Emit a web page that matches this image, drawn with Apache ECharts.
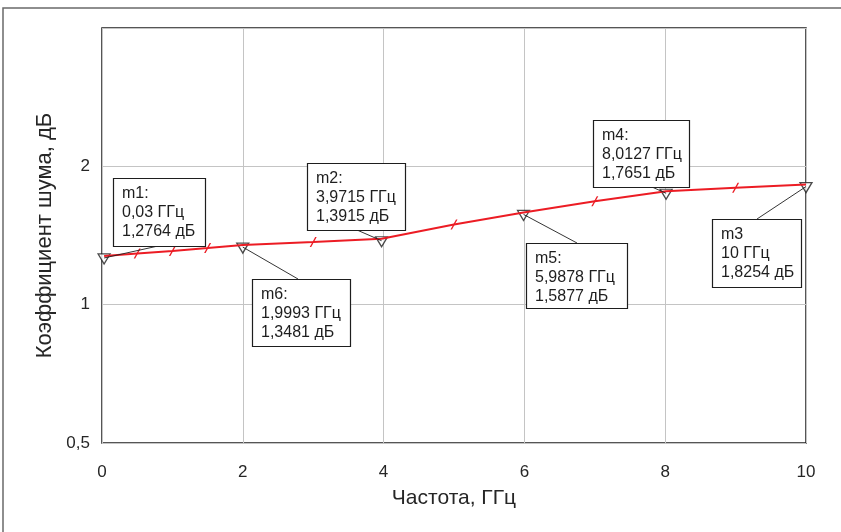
<!DOCTYPE html>
<html>
<head>
<meta charset="utf-8">
<script src="https://cdn.jsdelivr.net/npm/echarts@6/dist/echarts.min.js"></script>
<style>
  html, body { margin: 0; padding: 0; background: #fff; }
  #chart { width: 841px; height: 532px; }
</style>
</head>
<body>
<div id="chart"></div>
<script>
// Noise figure of the amplifier over frequency
const freqGHz = [0.03, 0.5, 1, 1.5, 1.9993, 3, 3.9715, 5, 5.9878, 7, 8.0127, 9, 10];
const noiseDb = [1.2764, 1.292, 1.309, 1.328, 1.3481, 1.369, 1.3915, 1.494, 1.5877, 1.679, 1.7651, 1.797, 1.8254];

// Markers placed on the trace
const markerNames = ['m1:', 'm6:', 'm2:', 'm5:', 'm4:', 'm3'];
const markerFreq = [0.03, 1.9993, 3.9715, 5.9878, 8.0127, 10];
const markerDb = [1.2764, 1.3481, 1.3915, 1.5877, 1.7651, 1.8254];

// Axis ticks
const xTicks = [0, 2, 4, 6, 8, 10];
const yTicks = [0.5, 1, 2];

// Marker readout boxes: top-left corner, size and leader anchor on the box
const boxLayout = [
  { x: 113, y: 178, w: 92, h: 68, ax: 158, ay: 246 },
  { x: 252, y: 279, w: 98, h: 67, ax: 298, ay: 279 },
  { x: 307, y: 163, w: 98, h: 67, ax: 357, ay: 230 },
  { x: 526, y: 243, w: 101, h: 65, ax: 577, ay: 243 },
  { x: 593, y: 120, w: 96, h: 67, ax: 652, ay: 187 },
  { x: 712, y: 219, w: 89, h: 68, ax: 757, ay: 219 }
];

const fmtNum = (v, d) => v.toFixed(d).replace('.', ',');
const fmtFreq = f => (Number.isInteger(f) ? String(f) : String(f).replace('.', ',')) + ' ГГц';
const fmtDb = v => fmtNum(v, 4) + ' дБ';

const traceColor = '#ec1c24';
const slashSymbol = 'path://M5.5,0 L7,0 L1.5,10 L0,10 Z';

const chart = echarts.init(document.getElementById('chart'), null, { renderer: 'canvas' });

const traceData = freqGHz.map((f, i) => ({
  value: [f, noiseDb[i]],
  symbol: markerFreq.indexOf(f) >= 0 ? 'none' : slashSymbol
}));

chart.setOption({
  animation: false,
  backgroundColor: '#fff',
  textStyle: { fontFamily: 'Liberation Sans, Arial, sans-serif' },
  grid: {
    left: 102, right: 35, top: 28, bottom: 89,
    show: true, borderColor: '#1e1e1e', borderWidth: 1.5, backgroundColor: 'transparent'
  },
  xAxis: {
    type: 'value',
    min: xTicks[0], max: xTicks[xTicks.length - 1], interval: 2,
    name: 'Частота, ГГц', nameLocation: 'middle', nameGap: 45,
    nameTextStyle: { fontSize: 21, color: '#262626' },
    axisLine: { show: false },
    axisTick: { show: false },
    axisLabel: { fontSize: 17, color: '#262626', margin: 21 },
    splitLine: { show: true, lineStyle: { color: '#c4c4c4', width: 1 } }
  },
  yAxis: {
    type: 'log', logBase: 2,
    min: 0.5, max: 4,
    name: 'Коэффициент шума, дБ', nameLocation: 'middle', nameGap: 45,
    nameTextStyle: { fontSize: 22, color: '#262626' },
    axisLine: { show: false },
    axisTick: { show: false },
    axisLabel: {
      fontSize: 17, color: '#262626', margin: 12,
      formatter: v => {
        const r = Math.round(v * 1000) / 1000;
        return yTicks.indexOf(r) >= 0 ? String(r).replace('.', ',') : '';
      }
    },
    splitLine: { show: true, lineStyle: { color: '#c4c4c4', width: 1 } }
  },
  series: [
    {
      name: 'markers',
      type: 'scatter',
      z: 2,
      data: markerFreq.map((f, i) => [f, markerDb[i]]),
      symbol: 'triangle',
      symbolRotate: 180,
      symbolSize: [12, 10],
      symbolOffset: [0, 3],
      itemStyle: { color: '#ffffff', borderColor: '#1e1e1e', borderWidth: 1.3 }
    },
    {
      name: 'NF',
      type: 'line',
      z: 3,
      data: traceData,
      showAllSymbol: true,
      symbolSize: [7, 10],
      lineStyle: { color: traceColor, width: 2 },
      itemStyle: { color: traceColor, borderWidth: 0 }
    }
  ]
});

// Readout boxes and leader lines for the markers
const graphics = [
  {
    type: 'rect', silent: true, z: 0,
    shape: { x: 3, y: 8, width: 900, height: 600 },
    style: { fill: 'none', stroke: '#6a6a6a', lineWidth: 1.5 }
  }
];
markerFreq.forEach((f, i) => {
  const p = chart.convertToPixel({ gridIndex: 0 }, [f, markerDb[i]]);
  const b = boxLayout[i];
  graphics.push({
    type: 'line', silent: true, z: 100,
    shape: { x1: b.ax, y1: b.ay, x2: p[0], y2: p[1] + 2 },
    style: { stroke: '#1e1e1e', lineWidth: 0.9 }
  });
  graphics.push({
    type: 'rect', silent: true, z: 101,
    shape: { x: b.x + 0.5, y: b.y + 0.5, width: b.w, height: b.h },
    style: { fill: '#ffffff', stroke: '#1e1e1e', lineWidth: 1.2 }
  });
  graphics.push({
    type: 'text', silent: true, z: 102,
    x: b.x + 9, y: b.y + 6,
    style: {
      text: markerNames[i] + '\n' + fmtFreq(f) + '\n' + fmtDb(markerDb[i]),
      font: '16px "Liberation Sans", Arial, sans-serif',
      lineHeight: 19,
      fill: '#1e1e1e',
      textAlign: 'left', textVerticalAlign: 'top'
    }
  });
});
chart.setOption({ graphic: graphics });
</script>
</body>
</html>
